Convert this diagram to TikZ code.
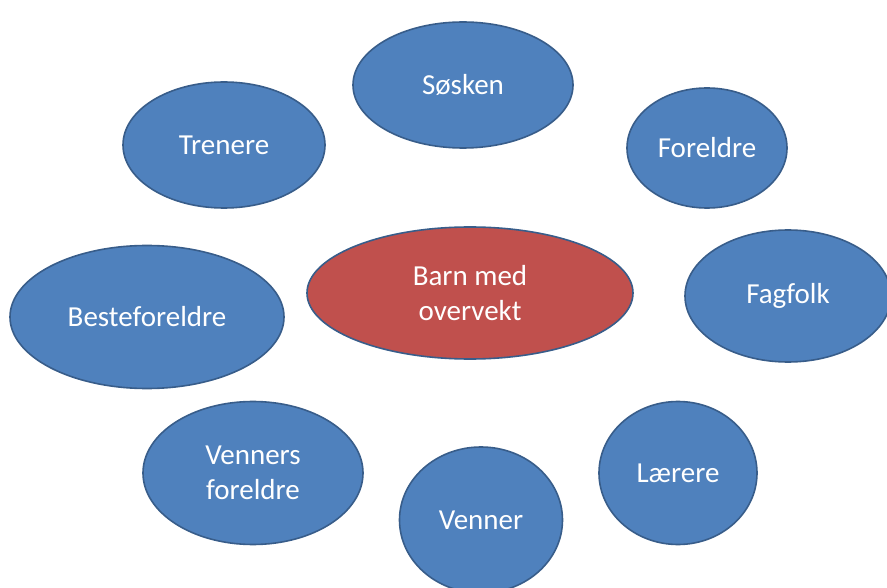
\documentclass[tikz,border=0pt]{standalone}
\usepackage{fontspec}
\setmainfont{Carlito}
\usetikzlibrary{shapes.geometric}
\definecolor{bfill}{HTML}{4F81BD}
\definecolor{bline}{HTML}{385D8A}
\definecolor{rfill}{HTML}{C0504D}
\tikzset{
  oval/.style={ellipse, draw=bline, line width=1.6pt, fill=bfill, text=white,
    inner sep=0pt, align=center, font=\fontsize{29}{35}\selectfont},
  centre/.style={oval, fill=rfill}
}
\begin{document}
\begin{tikzpicture}[x=1pt,y=-1pt]
\useasboundingbox (0,0) rectangle (887,588);
\clip (0,0) rectangle (887,588);
\fill[white] (0,0) rectangle (887,588);
\node[oval, minimum width=220pt, minimum height=126pt] (sosken) at (463,85) {Søsken};
\node[oval, minimum width=202pt, minimum height=126pt] (trenere) at (224,145) {Trenere};
\node[oval, minimum width=160pt, minimum height=120pt] (foreldre) at (707,148) {Foreldre};
\node[centre, minimum width=326pt, minimum height=132pt] (barn) at (470,293) {Barn med\\overvekt};
\node[oval, minimum width=206pt, minimum height=132pt] (fagfolk) at (788,296) {Fagfolk};
\node[oval, minimum width=274pt, minimum height=143pt] (beste) at (147,317) {Besteforeldre};
\node[oval, minimum width=220pt, minimum height=143pt] (vforeldre) at (253,473) {Venners\\foreldre};
\node[oval, minimum width=163pt, minimum height=146pt] (venner) at (481,520) {Venner};
\node[oval, minimum width=158pt, minimum height=143pt] (laerere) at (678,473) {Lærere};
\end{tikzpicture}
\end{document}
